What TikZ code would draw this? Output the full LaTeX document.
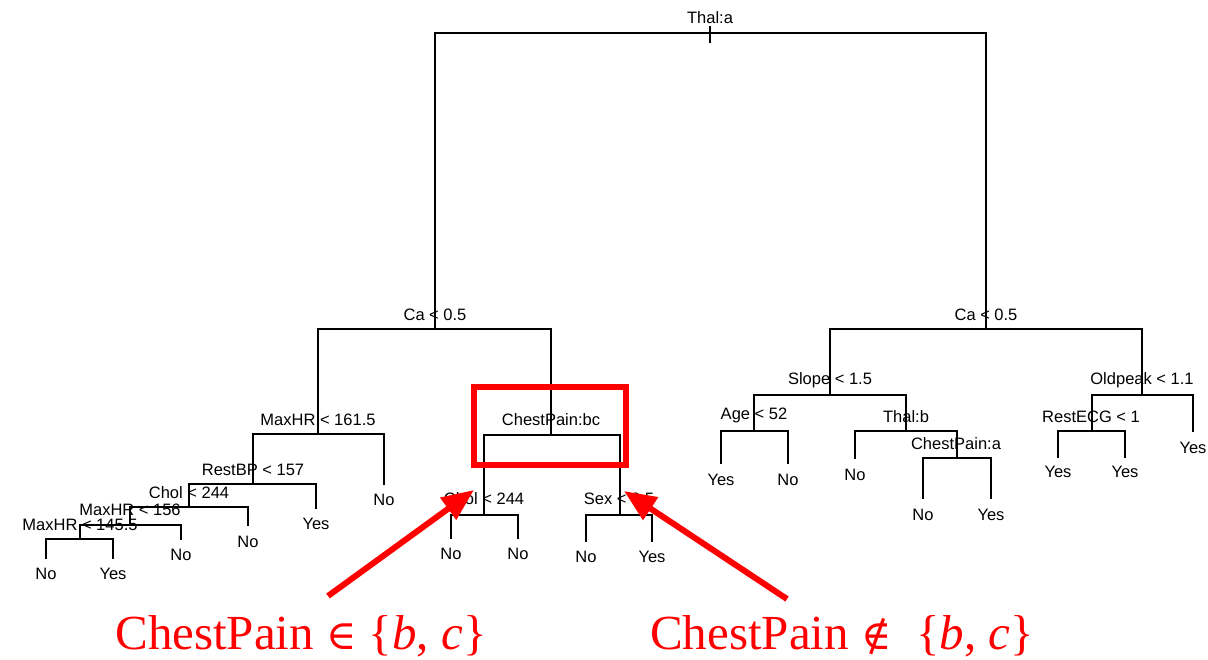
\documentclass[tikz,border=0pt]{standalone}
\usepackage{fontspec}
\setmainfont{Liberation Sans}
\newfontfamily\redserif{Liberation Serif}
\newfontfamily\symserif{DejaVu Serif}
\usetikzlibrary{arrows.meta}
\begin{document}
\begin{tikzpicture}[x=1pt,y=-1pt,
  edge/.style={line width=1.8pt,line cap=rect},
  lab/.style={inner sep=0pt,font=\fontsize{16.5}{18}\selectfont,anchor=center},
  redline/.style={draw=red,line width=6pt},
  redarrow/.style={red,line width=6pt,-{Triangle[length=32pt,width=26pt]}},
  redtext/.style={red,inner sep=0pt,font=\redserif\fontsize{49}{56}\selectfont}]
\useasboundingbox (0,0) rectangle (1208,659);
% split and leaf coordinates
\coordinate (r) at (710,33);
\coordinate (rt) at (710,27);
\coordinate (rb) at (710,42);
\coordinate (L) at (435,329);
\coordinate (R) at (986,329);
\coordinate (LL) at (318,434);
\coordinate (LLR) at (384,484);
\coordinate (LLL) at (253,484);
\coordinate (LLLR) at (316,508);
\coordinate (LLLL) at (189,507);
\coordinate (L4R) at (248,525);
\coordinate (L4L) at (130,525);
\coordinate (L5R) at (181,539);
\coordinate (L5L) at (80,539);
\coordinate (L6L) at (46,558);
\coordinate (L6R) at (113,558);
\coordinate (LR) at (551,435);
\coordinate (LRL) at (484,515);
\coordinate (LRLL) at (451,538);
\coordinate (LRLR) at (518,538);
\coordinate (LRR) at (620,515);
\coordinate (LRRL) at (586,541);
\coordinate (LRRR) at (652,541);
\coordinate (RL) at (830,395);
\coordinate (RLL) at (754,431);
\coordinate (RLLL) at (721,463);
\coordinate (RLLR) at (788,463);
\coordinate (RLR) at (906,431);
\coordinate (RLRL) at (855,458);
\coordinate (RLRR) at (957,458);
\coordinate (RLRRL) at (923,498);
\coordinate (RLRRR) at (991,498);
\coordinate (RR) at (1142,395);
\coordinate (RRL) at (1092,431);
\coordinate (RRLL) at (1058,457);
\coordinate (RRLR) at (1125,457);
\coordinate (RRR) at (1193,431);
% edges
\draw[edge] (rt) -- (rb);
\foreach \p/\c in {r/L,r/R,L/LL,L/LR,LL/LLL,LL/LLR,LLL/LLLL,LLL/LLLR,LLLL/L4L,LLLL/L4R,L4L/L5L,L4L/L5R,L5L/L6L,L5L/L6R,
  LR/LRL,LR/LRR,LRL/LRLL,LRL/LRLR,LRR/LRRL,LRR/LRRR,
  R/RL,R/RR,RL/RLL,RL/RLR,RLL/RLLL,RLL/RLLR,RLR/RLRL,RLR/RLRR,RLRR/RLRRL,RLRR/RLRRR,RR/RRL,RR/RRR,RRL/RRLL,RRL/RRLR}
  \draw[edge] (\p) -| (\c);
% split labels
\node[lab] (tr) at (710,18) {Thal:a};
\node[lab] (tL) at (435,315) {Ca < 0.5};
\node[lab] (tR) at (986,315) {Ca < 0.5};
\node[lab] (tLL) at (318,420) {MaxHR < 161.5};
\node[lab] (tLLL) at (253,470) {RestBP < 157};
\node[lab] (tLLLL) at (189,493) {Chol < 244};
\node[lab] (tL4L) at (130,510) {MaxHR < 156};
\node[lab] (tL5L) at (80,525) {MaxHR < 145.5};
\node[lab] (tLR) at (551,420) {ChestPain:bc};
\node[lab] (tLRL) at (484,499) {Chol < 244};
\node[lab] (tLRR) at (619,499) {Sex < 0.5};
\node[lab] (tRL) at (830,380) {Slope < 1.5};
\node[lab] (tRLL) at (754,415) {Age < 52};
\node[lab] (tRLR) at (906,417) {Thal:b};
\node[lab] (tRLRR) at (956,444) {ChestPain:a};
\node[lab] (tRR) at (1142,380) {Oldpeak < 1.1};
\node[lab] (tRRL) at (1091,417) {RestECG < 1};
% leaf labels
\node[lab] (lLLR) at (384,500) {No};
\node[lab] (lLLLR) at (316,524) {Yes};
\node[lab] (lL4R) at (248,542) {No};
\node[lab] (lL5R) at (181,555) {No};
\node[lab] (lL6L) at (46,574) {No};
\node[lab] (lL6R) at (113,574) {Yes};
\node[lab] (lLRLL) at (451,554) {No};
\node[lab] (lLRLR) at (518,554) {No};
\node[lab] (lLRRL) at (586,557) {No};
\node[lab] (lLRRR) at (652,557) {Yes};
\node[lab] (lRLLL) at (721,480) {Yes};
\node[lab] (lRLLR) at (788,480) {No};
\node[lab] (lRLRL) at (855,475) {No};
\node[lab] (lRLRRL) at (923,515) {No};
\node[lab] (lRLRRR) at (991,515) {Yes};
\node[lab] (lRRLL) at (1058,472) {Yes};
\node[lab] (lRRLR) at (1125,472) {Yes};
\node[lab] (lRRR) at (1193,448) {Yes};
% red highlight
\node[redline,minimum width=152pt,minimum height=78pt,inner sep=0pt] (box) at (550,426) {};
\node[redtext] (txtin) at (301,636) {ChestPain {\symserif\fontsize{41}{50}\selectfont ∈} \{\textit{b}, \textit{c}\}};
\node[redtext] (txtout) at (842,636) {ChestPain {\symserif\fontsize{41}{50}\selectfont ∉}\ \ \{\textit{b}, \textit{c}\}};
\coordinate (tipin) at (474,490);
\coordinate (tipout) at (624,491);
\coordinate (startin) at (328,596);
\coordinate (startout) at (787,599);
\draw[redarrow] (startin) -- (tipin);
\draw[redarrow] (startout) -- (tipout);
\end{tikzpicture}
\end{document}
